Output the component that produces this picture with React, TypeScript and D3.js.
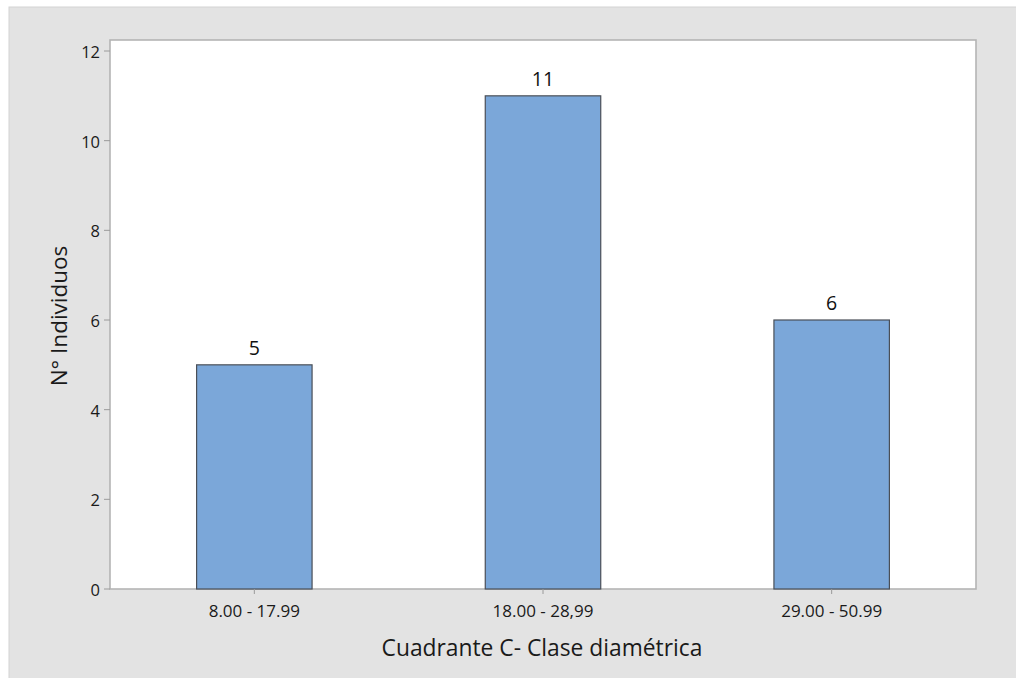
import React from "react";
import * as d3 from "d3";

const categories = ["8.00 - 17.99", "18.00 - 28,99", "29.00 - 50.99"];
const counts = [5, 11, 6];
const yTicks = [0, 2, 4, 6, 8, 10, 12];
const xTitle = "Cuadrante C- Clase diamétrica";
const yTitle = "N° Individuos";

const W = 1016;
const H = 678;
const plot = { left: 110, top: 40, right: 976, bottom: 589 };
const FONT = "'Open Sans', 'Noto Sans', sans-serif";

export default function App() {
  const x = d3
    .scaleBand<string>()
    .domain(categories)
    .range([plot.left, plot.right])
    .paddingInner(0.6)
    .paddingOuter(0.3);
  const y = d3.scaleLinear().domain([0, 12]).range([589, 51]);

  return (
    <svg
      width={W}
      height={H}
      style={{ position: "absolute", left: 0, top: 0, display: "block" }}
      fontFamily={FONT}
    >
      <rect x={0} y={0} width={W} height={H} fill="#ffffff" />
      <rect x={9} y={7} width={W + 10} height={H + 10} fill="#e3e3e3" stroke="#d4d4d4" strokeWidth={1} />
      <rect
        x={plot.left}
        y={plot.top}
        width={plot.right - plot.left}
        height={plot.bottom - plot.top}
        fill="#ffffff"
        stroke="#b4b4b4"
        strokeWidth={1.6}
      />
      {yTicks.map((t) => (
        <g key={t}>
          <line x1={plot.left - 6} x2={plot.left} y1={y(t)} y2={y(t)} stroke="#9a9a9a" strokeWidth={1} />
          <text x={100} y={y(t)} dy="0.42em" textAnchor="end" fontSize={16.5} fill="#1a1a1a">
            {t}
          </text>
        </g>
      ))}
      {categories.map((c, i) => {
        const cx = (x(c) as number) + x.bandwidth() / 2;
        return (
          <g key={c}>
            <rect
              x={x(c)}
              y={y(counts[i])}
              width={x.bandwidth()}
              height={y(0) - y(counts[i])}
              fill="#7ba7d9"
              stroke="#4a4f57"
              strokeWidth={1.2}
            />
            <text x={cx} y={y(counts[i]) - 10} textAnchor="middle" fontSize={19.5} fill="#111">
              {counts[i]}
            </text>
            <line x1={cx} x2={cx} y1={plot.bottom} y2={plot.bottom + 5} stroke="#9a9a9a" strokeWidth={1} />
            <text x={cx} y={plot.bottom + 28} textAnchor="middle" fontSize={17} fill="#1a1a1a">
              {c}
            </text>
          </g>
        );
      })}
      <text x={542} y={656} textAnchor="middle" fontSize={22.8} fill="#1a1a1a">
        {xTitle}
      </text>
      <text
        transform={`translate(67,316) rotate(-90)`}
        textAnchor="middle"
        fontSize={22.5}
        fill="#1a1a1a"
      >
        {yTitle}
      </text>
    </svg>
  );
}
